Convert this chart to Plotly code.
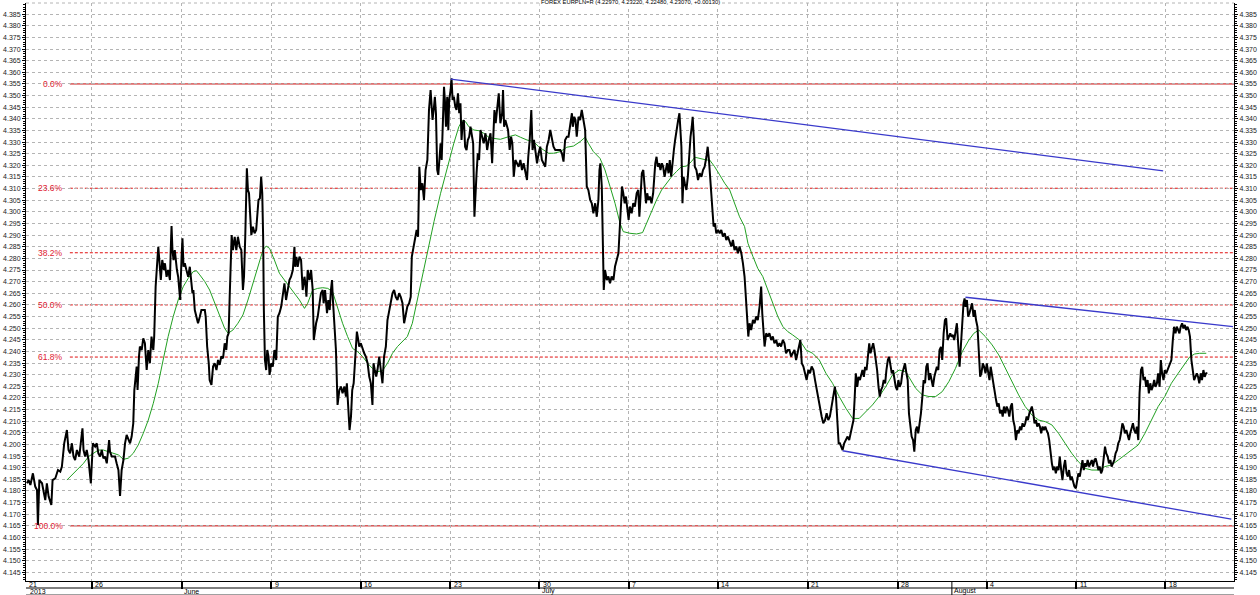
import plotly.graph_objects as go

# ---------------- data ----------------
title_text = "FOREX EURPLN=R (4.22970, 4.23220, 4.22480, 4.23070, +0.00130)"

# time in trading days since first bar (21 May 2013)
price_t = [
    0.00, 0.09, 0.19, 0.33, 0.46, 0.56, 0.61, 0.69, 0.84, 0.93, 1.02, 1.11, 1.21, 1.36, 1.43, 1.58, 1.73, 1.86, 1.95, 2.08,
    2.14, 2.23, 2.32, 2.41, 2.51, 2.60, 2.69, 2.79, 2.92, 3.10, 3.16, 3.25, 3.34, 3.44, 3.57, 3.62, 3.68, 3.81, 3.90, 3.99,
    4.09, 4.18, 4.27, 4.36, 4.46, 4.59, 4.64, 4.74, 4.92, 5.01, 5.11, 5.20, 5.29, 5.39, 5.48, 5.57, 5.66, 5.76, 5.85, 5.94,
    6.00, 6.07, 6.13, 6.18, 6.22, 6.26, 6.31, 6.41, 6.50, 6.59, 6.69, 6.78, 6.87, 6.96, 7.06, 7.11, 7.19, 7.24, 7.30, 7.34,
    7.39, 7.48, 7.56, 7.65, 7.71, 7.80, 7.89, 7.99, 8.04, 8.08, 8.13, 8.19, 8.26, 8.30, 8.38, 8.45, 8.51, 8.56, 8.64, 8.69,
    8.75, 8.82, 8.91, 9.01, 9.10, 9.19, 9.25, 9.30, 9.38, 9.47, 9.56, 9.66, 9.75, 9.84, 9.94, 9.99, 10.07, 10.16, 10.21, 10.31,
    10.40, 10.49, 10.59, 10.68, 10.77, 10.86, 10.96, 11.05, 11.14, 11.20, 11.27, 11.33, 11.38, 11.44, 11.51, 11.61, 11.70, 11.79, 11.89, 11.98,
    12.07, 12.13, 12.20, 12.26, 12.29, 12.35, 12.41, 12.46, 12.54, 12.63, 12.72, 12.81, 12.87, 12.94, 13.02, 13.09, 13.15, 13.20, 13.24, 13.30,
    13.37, 13.43, 13.50, 13.56, 13.65, 13.74, 13.83, 13.93, 14.02, 14.11, 14.21, 14.30, 14.39, 14.48, 14.58, 14.67, 14.76, 14.86, 14.95, 14.99,
    15.06, 15.13, 15.23, 15.32, 15.41, 15.51, 15.56, 15.62, 15.69, 15.79, 15.88, 15.97, 16.03, 16.10, 16.16, 16.25, 16.34, 16.43, 16.53, 16.58,
    16.66, 16.77, 16.84, 16.92, 16.99, 17.05, 17.10, 17.18, 17.27, 17.36, 17.46, 17.55, 17.64, 17.74, 17.83, 17.88, 17.96, 18.03, 18.11, 18.18,
    18.26, 18.35, 18.44, 18.52, 18.57, 18.66, 18.76, 18.85, 18.94, 19.04, 19.13, 19.22, 19.31, 19.37, 19.44, 19.52, 19.59, 19.69, 19.78, 19.87,
    19.96, 20.06, 20.15, 20.24, 20.34, 20.43, 20.52, 20.61, 20.71, 20.80, 20.89, 20.99, 21.08, 21.17, 21.26, 21.36, 21.45, 21.51, 21.60, 21.67,
    21.73, 21.78, 21.86, 21.93, 22.01, 22.10, 22.19, 22.28, 22.38,
    22.47, 22.56, 22.62, 22.67, 22.75, 22.80, 22.86, 22.93, 22.99, 23.05, 23.12, 23.18, 23.23, 23.31, 23.36, 23.42, 23.49, 23.55, 23.60, 23.68,
    23.73, 23.79, 23.86, 23.94, 24.01, 24.09, 24.16, 24.23, 24.29, 24.35, 24.42, 24.49, 24.57, 24.64, 24.72, 24.79, 24.88, 24.94, 25.01, 25.07,
    25.13, 25.20, 25.27, 25.35, 25.44, 25.53, 25.63, 25.72, 25.81, 25.91, 26.00, 26.05, 26.13, 26.20, 26.28, 26.37, 26.46, 26.56, 26.61, 26.67,
    26.74, 26.83, 26.89, 26.98, 27.06, 27.13, 27.21, 27.30, 27.39, 27.48, 27.58, 27.67, 27.76, 27.86, 27.95, 28.02, 28.10, 28.19, 28.26, 28.34,
    28.41, 28.51, 28.60, 28.69, 28.78, 28.88, 28.97, 29.06, 29.16, 29.25, 29.34, 29.43, 29.53, 29.62, 29.71, 29.81, 29.90, 29.99, 30.08, 30.18,
    30.27, 30.36, 30.46, 30.51, 30.59, 30.66, 30.73, 30.83, 30.92, 31.01, 31.11, 31.20, 31.29, 31.38, 31.48, 31.57, 31.66, 31.76, 31.85, 31.94,
    32.00, 32.05, 32.13, 32.18, 32.24, 32.31, 32.41, 32.50, 32.59, 32.68, 32.78, 32.87, 32.96, 33.06, 33.15, 33.20, 33.26, 33.33, 33.41, 33.48,
    33.56, 33.63, 33.70, 33.80, 33.89, 33.98, 34.08, 34.17, 34.23, 34.30, 34.37, 34.45, 34.52, 34.60, 34.67, 34.74, 34.82, 34.91, 35.00, 35.06,
    35.12, 35.19, 35.26, 35.34, 35.41, 35.49, 35.56, 35.64, 35.71, 35.78, 35.86, 35.93, 36.01, 36.08, 36.16, 36.23, 36.30, 36.40, 36.47, 36.53,
    36.58, 36.64, 36.70, 36.77, 36.86, 36.94, 37.01, 37.09, 37.16, 37.21, 37.27, 37.33, 37.42, 37.51, 37.60, 37.70, 37.79, 37.88, 37.98, 38.05,
    38.12, 38.18, 38.25, 38.31, 38.38, 38.46, 38.53, 38.63, 38.72, 38.81, 38.90, 39.00, 39.09, 39.18, 39.28, 39.37, 39.46, 39.55, 39.65, 39.74,
    39.83, 39.93, 40.02, 40.11, 40.17, 40.24, 40.32, 40.39, 40.48, 40.58, 40.67, 40.76, 40.85, 40.95, 41.04, 41.10, 41.17, 41.23, 41.32, 41.41,
    41.50, 41.60, 41.69, 41.78, 41.88, 41.97, 42.06, 42.15, 42.25, 42.34, 42.43, 42.53, 42.62, 42.71, 42.80, 42.90, 42.99, 43.08, 43.18, 43.23,
    43.31, 43.40, 43.49, 43.58, 43.68, 43.77, 43.86, 43.96, 44.05, 44.14, 44.23, 44.33, 44.42, 44.51, 44.61, 44.70, 44.79, 44.88, 44.98, 45.07,
    45.16, 45.22, 45.29, 45.37,
    45.44, 45.52, 45.59, 45.68, 45.78, 45.87, 45.96, 46.05, 46.15, 46.20, 46.26, 46.33, 46.41, 46.48, 46.56, 46.63, 46.70, 46.78, 46.85, 46.93,
    47.00, 47.08, 47.15, 47.22, 47.30, 47.37, 47.45, 47.52, 47.60, 47.67, 47.74, 47.82, 47.89, 47.97, 48.04, 48.12, 48.19, 48.26, 48.34, 48.41,
    48.49, 48.56, 48.64, 48.71, 48.78, 48.86, 48.93, 49.01, 49.08, 49.16, 49.23, 49.30, 49.38, 49.45, 49.53, 49.60, 49.68, 49.75, 49.82, 49.90,
    49.97, 50.05, 50.12, 50.20, 50.27, 50.34, 50.42, 50.49, 50.57, 50.64, 50.72, 50.79, 50.86, 50.94, 51.01, 51.09, 51.16, 51.24, 51.31, 51.38,
    51.46, 51.53, 51.61, 51.68, 51.76, 51.83, 51.90, 51.98, 52.05, 52.13, 52.20, 52.28, 52.35, 52.41, 52.46, 52.54, 52.61, 52.68, 52.76, 52.83,
    52.91, 52.98, 53.05, 53.13, 53.20, 53.28, 53.35, 53.43, 53.50, 53.58, 53.65, 53.72, 53.80, 53.87, 53.95, 54.02, 54.09, 54.17, 54.24, 54.32,
    54.39, 54.47, 54.54, 54.61, 54.69, 54.76, 54.84, 54.91, 54.99, 55.06, 55.13, 55.21, 55.28, 55.36, 55.43, 55.51, 55.58, 55.65, 55.73, 55.80,
    55.88, 55.95, 56.03, 56.10, 56.17, 56.25, 56.32, 56.40, 56.47, 56.55, 56.62, 56.69, 56.77, 56.84, 56.92, 56.99, 57.07, 57.14, 57.21, 57.29,
    57.36, 57.44, 57.51, 57.59, 57.66, 57.73, 57.81, 57.88, 57.96, 58.03, 58.11, 58.18, 58.25, 58.33, 58.40, 58.48, 58.55, 58.63, 58.70, 58.77,
    58.85, 58.92, 59.00, 59.07, 59.15, 59.22, 59.29, 59.37, 59.44, 59.52, 59.59, 59.67, 59.74, 59.81, 59.89, 59.96, 60.04, 60.11, 60.19, 60.26,
    60.33, 60.41, 60.48, 60.56, 60.63, 60.71, 60.78, 60.85, 60.93, 61.00, 61.08, 61.15, 61.23, 61.30, 61.37, 61.45, 61.52, 61.60, 61.67, 61.75,
    61.82, 61.89, 61.97, 62.04, 62.12, 62.19, 62.27, 62.34, 62.41, 62.49, 62.56, 62.64, 62.71, 62.79, 62.86, 62.93, 63.01, 63.08, 63.16, 63.23,
    63.31, 63.38, 63.45, 63.53, 63.60, 63.68, 63.75, 63.83, 63.90, 63.97, 64.05, 64.12, 64.20, 64.27, 64.35, 64.42, 64.49, 64.57, 64.64, 64.72,
    64.79, 64.87, 64.94, 65.01, 65.09, 65.16, 65.24, 65.31, 65.39, 65.46, 65.53, 65.61, 65.68, 65.76, 65.83, 65.91, 65.98,
]

price = [
    4.1833, 4.1847, 4.1826, 4.1876, 4.1819, 4.1804, 4.1654, 4.1847, 4.1833, 4.1790, 4.1761, 4.1833, 4.1776, 4.1740, 4.1847, 4.1854, 4.1890, 4.1883, 4.1905, 4.2005,
    4.2034, 4.2062, 4.1976, 4.1962, 4.2005, 4.1948, 4.1933, 4.1976, 4.1948, 4.2069, 4.1976, 4.1948, 4.1976, 4.1933, 4.1833, 4.1948, 4.2005, 4.1991, 4.2005, 4.1962,
    4.1948, 4.1976, 4.1940, 4.1948, 4.1919, 4.2019, 4.1969, 4.1948, 4.1948, 4.1919, 4.1890, 4.1779, 4.1890, 4.1933, 4.2005, 4.2041, 4.2019, 4.2005, 4.2034, 4.2091,
    4.2234, 4.2292, 4.2335, 4.2234, 4.2349, 4.2378, 4.2421, 4.2406, 4.2456, 4.2435, 4.2320, 4.2406, 4.2349, 4.2464, 4.2406, 4.2464, 4.2678, 4.2721, 4.2807, 4.2850,
    4.2779, 4.2707, 4.2793, 4.2750, 4.2779, 4.2721, 4.2750, 4.2707, 4.2850, 4.2939, 4.2836, 4.2793, 4.2836, 4.2793, 4.2750, 4.2721, 4.2664, 4.2621, 4.2807, 4.2886,
    4.2764, 4.2779, 4.2750, 4.2721, 4.2764, 4.2693, 4.2650, 4.2664, 4.2578, 4.2549, 4.2521, 4.2549, 4.2578, 4.2578, 4.2578, 4.2549, 4.2421, 4.2349, 4.2277, 4.2256,
    4.2335, 4.2349, 4.2320, 4.2363, 4.2342, 4.2378, 4.2371, 4.2435, 4.2406, 4.2464, 4.2478, 4.2635, 4.2807, 4.2900, 4.2836, 4.2893, 4.2836, 4.2893, 4.2850, 4.2836,
    4.2664, 4.2721, 4.2893, 4.3151, 4.3187, 4.3094, 4.3080, 4.3008, 4.2900, 4.2936, 4.2908, 4.2922, 4.2979, 4.3051, 4.3058, 4.3151, 4.3080, 4.2893, 4.2578, 4.2363,
    4.2320, 4.2406, 4.2378, 4.2299, 4.2349, 4.2335, 4.2406, 4.2363, 4.2549, 4.2564, 4.2593, 4.2650, 4.2693, 4.2621, 4.2664, 4.2707, 4.2721, 4.2750, 4.2850, 4.2764,
    4.2807, 4.2764, 4.2807, 4.2793, 4.2664, 4.2721, 4.2693, 4.2635, 4.2750, 4.2707, 4.2750, 4.2664, 4.2449, 4.2492, 4.2521, 4.2549, 4.2607, 4.2650, 4.2664, 4.2607,
    4.2664, 4.2564, 4.2621, 4.2578, 4.2664, 4.2707, 4.2621, 4.2535, 4.2406, 4.2170, 4.2234, 4.2249, 4.2220, 4.2249, 4.2206, 4.2263, 4.2177, 4.2062, 4.2120, 4.2234,
    4.2263, 4.2378, 4.2485, 4.2449, 4.2421, 4.2435, 4.2406, 4.2392, 4.2378, 4.2349, 4.2292, 4.2263, 4.2170, 4.2349, 4.2320, 4.2292, 4.2320, 4.2378, 4.2320, 4.2263,
    4.2378, 4.2421, 4.2535, 4.2578, 4.2607, 4.2650, 4.2664, 4.2635, 4.2621, 4.2650, 4.2635, 4.2607, 4.2521, 4.2564, 4.2593, 4.2607, 4.2635, 4.2807, 4.2850, 4.2879,
    4.2900, 4.2922, 4.2893, 4.3194, 4.3094, 4.3123, 4.3051, 4.3180, 4.3223,
    4.3438, 4.3524, 4.3467, 4.3395, 4.3452, 4.3495, 4.3424, 4.3180, 4.3159, 4.3237, 4.3295, 4.3223, 4.3366, 4.3538, 4.3481, 4.3366, 4.3495, 4.3352, 4.3481, 4.3524,
    4.3574, 4.3481, 4.3495, 4.3452, 4.3438, 4.3510, 4.3424, 4.3467, 4.3309, 4.3381, 4.3395, 4.3280, 4.3266, 4.3309, 4.3323, 4.3366, 4.3323, 4.3295, 4.2979, 4.3109,
    4.3166, 4.3252, 4.3223, 4.3352, 4.3323, 4.3295, 4.3338, 4.3266, 4.3309, 4.3338, 4.3209, 4.3338, 4.3438, 4.3381, 4.3438, 4.3510, 4.3381, 4.3424, 4.3524, 4.3366,
    4.3395, 4.3366, 4.3352, 4.3266, 4.3323, 4.3295, 4.3151, 4.3223, 4.3209, 4.3194, 4.3223, 4.3180, 4.3209, 4.3166, 4.3137, 4.3237, 4.3309, 4.3438, 4.3266, 4.3309,
    4.3266, 4.3209, 4.3252, 4.3280, 4.3223, 4.3209, 4.3194, 4.3280, 4.3309, 4.3352, 4.3309, 4.3280, 4.3266, 4.3266, 4.3266, 4.3266, 4.3252, 4.3216, 4.3309, 4.3323,
    4.3323, 4.3366, 4.3424, 4.3366, 4.3409, 4.3395, 4.3323, 4.3409, 4.3395, 4.3438, 4.3381, 4.3352, 4.3109, 4.3094, 4.3051, 4.3037, 4.2994, 4.3037, 4.2979, 4.3051,
    4.3180, 4.3209, 4.3109, 4.2822, 4.2664, 4.2750, 4.2707, 4.2722, 4.2693, 4.2722, 4.2707, 4.2765, 4.2793, 4.2822, 4.2951, 4.3037, 4.3109, 4.3080, 4.3037, 4.3066,
    4.2994, 4.2965, 4.3023, 4.2994, 4.3037, 4.3023, 4.3080, 4.3094, 4.2979, 4.3051, 4.3166, 4.3180, 4.3109, 4.3037, 4.3080, 4.3051, 4.3066, 4.3037, 4.3080, 4.3166,
    4.3209, 4.3237, 4.3194, 4.3209, 4.3180, 4.3209, 4.3194, 4.3151, 4.3180, 4.3209, 4.3166, 4.3223, 4.3151, 4.3223, 4.3266, 4.3309, 4.3352, 4.3395, 4.3424, 4.3366,
    4.3280, 4.3037, 4.3151, 4.3123, 4.3094, 4.3151, 4.3252, 4.3323, 4.3366, 4.3409, 4.3323, 4.3194, 4.3180, 4.3137, 4.3166, 4.3151, 4.3180, 4.3194, 4.3237, 4.3280,
    4.3223, 4.3151, 4.3066, 4.2994, 4.2937, 4.2951, 4.2908, 4.2922, 4.2908, 4.2922, 4.2894, 4.2908, 4.2879, 4.2894, 4.2872, 4.2851, 4.2879, 4.2836, 4.2851, 4.2822,
    4.2851, 4.2822, 4.2779, 4.2722, 4.2650, 4.2535, 4.2464, 4.2521, 4.2492, 4.2535, 4.2521, 4.2550, 4.2535, 4.2593, 4.2679, 4.2564, 4.2478, 4.2421, 4.2478, 4.2464,
    4.2478, 4.2449, 4.2464, 4.2435, 4.2449, 4.2421, 4.2435, 4.2421, 4.2449, 4.2435, 4.2392, 4.2406, 4.2406, 4.2378, 4.2392, 4.2406, 4.2363, 4.2392, 4.2435, 4.2449,
    4.2349, 4.2335, 4.2306, 4.2277, 4.2320, 4.2306, 4.2335, 4.2320, 4.2277, 4.2234, 4.2191, 4.2148, 4.2120, 4.2091, 4.2105, 4.2134, 4.2105, 4.2120, 4.2163, 4.2220,
    4.2249, 4.2206, 4.2105, 4.2005,
    4.2005, 4.1991, 4.1976, 4.2005, 4.2019, 4.2034, 4.2019, 4.2048, 4.2077, 4.2105, 4.2191, 4.2306, 4.2248, 4.2291, 4.2277, 4.2306, 4.2320, 4.2291, 4.2334, 4.2320,
    4.2392, 4.2435, 4.2392, 4.2420, 4.2435, 4.2406, 4.2363, 4.2320, 4.2248, 4.2206, 4.2234, 4.2248, 4.2277, 4.2263, 4.2320, 4.2363, 4.2377, 4.2334, 4.2306, 4.2320,
    4.2277, 4.2248, 4.2234, 4.2277, 4.2248, 4.2263, 4.2306, 4.2334, 4.2349, 4.2306, 4.2277, 4.2134, 4.2062, 4.2034, 4.2019, 4.1969, 4.2062, 4.2077, 4.2048, 4.2091,
    4.2134, 4.2206, 4.2277, 4.2263, 4.2334, 4.2349, 4.2277, 4.2306, 4.2277, 4.2248, 4.2291, 4.2320, 4.2334, 4.2320, 4.2406, 4.2420, 4.2363, 4.2478, 4.2535, 4.2542,
    4.2449, 4.2463, 4.2478, 4.2463, 4.2471, 4.2449, 4.2492, 4.2521, 4.2435, 4.2334, 4.2420, 4.2535, 4.2607, 4.2628, 4.2592, 4.2621, 4.2549, 4.2564, 4.2592, 4.2607,
    4.2549, 4.2578, 4.2535, 4.2506, 4.2406, 4.2291, 4.2306, 4.2349, 4.2334, 4.2306, 4.2349, 4.2320, 4.2277, 4.2334, 4.2291, 4.2263, 4.2220, 4.2191, 4.2163, 4.2177,
    4.2134, 4.2148, 4.2120, 4.2163, 4.2134, 4.2163, 4.2148, 4.2120, 4.2163, 4.2177, 4.2105, 4.2077, 4.2019, 4.2062, 4.2048, 4.2077, 4.2062, 4.2091, 4.2077, 4.2091,
    4.2120, 4.2105, 4.2134, 4.2148, 4.2163, 4.2134, 4.2091, 4.2105, 4.2077, 4.2091, 4.2077, 4.2048, 4.2077, 4.2062, 4.2077, 4.2062, 4.2048, 4.2019, 4.1962, 4.1919,
    4.1890, 4.1905, 4.1876, 4.1905, 4.1890, 4.1948, 4.1890, 4.1847, 4.1905, 4.1933, 4.1876, 4.1862, 4.1890, 4.1847, 4.1862, 4.1833, 4.1819, 4.1811, 4.1847, 4.1876,
    4.1862, 4.1905, 4.1933, 4.1890, 4.1919, 4.1905, 4.1933, 4.1905, 4.1919, 4.1933, 4.1905, 4.1933, 4.1940, 4.1919, 4.1890, 4.1905, 4.1876, 4.1890, 4.1948, 4.1991,
    4.1962, 4.1948, 4.1919, 4.1933, 4.1905, 4.1919, 4.1933, 4.1962, 4.1976, 4.2005, 4.2019, 4.2048, 4.2091, 4.2077, 4.2048, 4.2062, 4.2034, 4.2019, 4.2048, 4.2077,
    4.2091, 4.2062, 4.2048, 4.2077, 4.2019, 4.2220, 4.2320, 4.2334, 4.2277, 4.2291, 4.2248, 4.2277, 4.2220, 4.2263, 4.2234, 4.2248, 4.2277, 4.2248, 4.2263, 4.2306,
    4.2248, 4.2363, 4.2306, 4.2277, 4.2320, 4.2306, 4.2320, 4.2334, 4.2349, 4.2363, 4.2449, 4.2506, 4.2478, 4.2506, 4.2492, 4.2478, 4.2506, 4.2521, 4.2499, 4.2514,
    4.2492, 4.2506, 4.2492, 4.2463, 4.2363, 4.2320, 4.2277, 4.2291, 4.2306, 4.2291, 4.2263, 4.2306, 4.2277, 4.2320, 4.2291, 4.2306, 4.2307,
]

# green moving average
ma_t = [
    2.23, 2.69, 3.16, 3.44, 3.71, 3.99, 4.27, 4.55, 4.83, 5.11, 5.39, 5.66, 5.94, 6.22, 6.50, 6.78, 7.06, 7.34, 7.61, 7.89,
    8.17, 8.45, 8.73, 9.01, 9.29, 9.47, 9.66, 9.94, 10.21, 10.49, 10.77, 11.05, 11.24, 11.51, 11.79, 12.07, 12.35, 12.63, 12.91, 13.19,
    13.37, 13.56, 13.83, 14.11, 14.39, 14.67, 14.95, 15.23, 15.51, 15.69, 15.97, 16.25, 16.53, 16.81, 17.08, 17.36, 17.64, 17.92, 18.20, 18.48,
    18.76, 19.04, 19.31, 19.59, 19.87, 20.15, 20.43, 20.71, 20.99, 21.26, 21.54, 21.82, 22.10, 22.38, 22.75, 23.12, 23.49, 23.86, 24.14, 24.33,
    24.51, 24.70, 24.98, 25.26, 25.53, 25.81, 26.09, 26.46, 26.83, 27.30, 27.58, 27.95, 28.32, 28.60, 28.88, 29.16, 29.43, 29.81, 30.18, 30.55,
    30.92, 31.20, 31.38, 31.66, 32.03, 32.31, 32.59, 32.87, 33.15, 33.33, 33.70, 34.08, 34.41, 34.63, 34.91, 35.19, 35.47, 35.75, 36.03, 36.30,
    36.58, 36.86, 37.14, 37.33, 37.60, 37.98, 38.16, 38.44, 38.72, 39.00, 39.28, 39.55, 39.83, 40.11, 40.30, 40.58, 40.85, 41.13, 41.41, 41.69,
    41.97, 42.25, 42.53, 42.80, 43.18, 43.55, 43.92, 44.29, 44.66, 45.03, 45.40, 45.78, 46.15, 46.52, 46.89, 47.26, 47.63, 48.00, 48.38, 48.75,
    49.12, 49.40, 49.68, 50.05, 50.42, 50.79, 51.16, 51.53, 51.90, 52.28, 52.65, 52.93, 53.20, 53.58, 53.95, 54.32, 54.69, 55.06, 55.43, 55.80,
    56.17, 56.55, 56.92, 57.29, 57.66, 58.03, 58.40, 58.77, 59.15, 59.52, 59.89, 60.26, 60.63, 61.00, 61.37, 61.75, 62.12, 62.49, 62.86, 63.23,
    63.60, 63.97, 64.35, 64.72, 65.00, 65.27, 65.55, 65.92,
]
ma_v = [
    4.1847, 4.1883, 4.1919, 4.1948, 4.1962, 4.1976, 4.1976, 4.1969, 4.1962, 4.1955, 4.1936, 4.1941, 4.1962, 4.1998, 4.2048, 4.2105, 4.2177, 4.2263, 4.2363, 4.2464,
    4.2549, 4.2621, 4.2678, 4.2714, 4.2743, 4.2747, 4.2729, 4.2700, 4.2664, 4.2607, 4.2549, 4.2499, 4.2478, 4.2492, 4.2521, 4.2557, 4.2621, 4.2693, 4.2764, 4.2836,
    4.2853, 4.2843, 4.2793, 4.2736, 4.2707, 4.2678, 4.2650, 4.2621, 4.2585, 4.2607, 4.2664, 4.2671, 4.2674, 4.2671, 4.2657, 4.2585, 4.2521, 4.2464, 4.2413, 4.2399,
    4.2378, 4.2349, 4.2327, 4.2313, 4.2317, 4.2349, 4.2392, 4.2421, 4.2442, 4.2464, 4.2521, 4.2621, 4.2721, 4.2836, 4.2958, 4.3080, 4.3194, 4.3295, 4.3366, 4.3392,
    4.3388, 4.3366, 4.3352, 4.3349, 4.3338, 4.3321, 4.3316, 4.3312, 4.3321, 4.3331, 4.3321, 4.3309, 4.3302, 4.3280, 4.3266, 4.3252, 4.3252, 4.3259, 4.3278, 4.3283,
    4.3302, 4.3321, 4.3295, 4.3259, 4.3230, 4.3180, 4.3109, 4.3037, 4.2951, 4.2915, 4.2908, 4.2905, 4.2911, 4.2951, 4.3008, 4.3051, 4.3094, 4.3123, 4.3151, 4.3173,
    4.3194, 4.3197, 4.3216, 4.3235, 4.3230, 4.3223, 4.3223, 4.3194, 4.3159, 4.3123, 4.3094, 4.3037, 4.2979, 4.2937, 4.2865, 4.2808, 4.2757, 4.2722, 4.2664, 4.2607,
    4.2550, 4.2507, 4.2485, 4.2471, 4.2449, 4.2406, 4.2392, 4.2363, 4.2306, 4.2263, 4.2206, 4.2155, 4.2112, 4.2112, 4.2141, 4.2170, 4.2206, 4.2248, 4.2299, 4.2320,
    4.2313, 4.2277, 4.2241, 4.2213, 4.2206, 4.2206, 4.2227, 4.2270, 4.2327, 4.2399, 4.2449, 4.2478, 4.2492, 4.2463, 4.2428, 4.2385, 4.2327, 4.2270, 4.2213, 4.2163,
    4.2127, 4.2105, 4.2098, 4.2084, 4.2048, 4.2005, 4.1962, 4.1926, 4.1897, 4.1890, 4.1890, 4.1905, 4.1912, 4.1933, 4.1955, 4.1976, 4.1998, 4.2048, 4.2105, 4.2163,
    4.2206, 4.2263, 4.2306, 4.2349, 4.2377, 4.2389, 4.2392, 4.2392,
]

# Fibonacci retracement between swing high and swing low
fib_high = 4.355
fib_low = 4.165
fib_pcts = [0.0, 23.6, 38.2, 50.0, 61.8, 100.0]

# trend lines: start / end (t, price)
trend_upper_t = [23.68, 63.51]
trend_upper_v = [4.3571, 4.3176]
chan_top_t = [52.46, 67.41]
chan_top_v = [4.2633, 4.2507]
chan_bot_t = [45.59, 67.32]
chan_bot_v = [4.1973, 4.1679]

# time axis labels
week_t = [3.63, 8.64, 13.65, 18.66, 23.67, 28.64, 33.65, 38.62, 43.63, 48.68, 53.65, 58.66, 63.63]
week_labels = ["26", "", "9", "16", "23", "30", "7", "14", "21", "28", "4", "11", "18"]
first_label = "21"
month_t = [0.0, 8.64, 28.64, 51.70]
month_labels = ["2013", "June", "July", "August"]

# ---------------- figure ----------------
X_RANGE = [-0.056, 67.47]
Y_RANGE = [4.1413, 4.3898]
PLOT_H = 578.0
FONT = "Liberation Sans, Arial, sans-serif"

fig = go.Figure()

fig.add_trace(go.Scatter(x=ma_t, y=ma_v, mode="lines",
                         line=dict(color="#22a022", width=1), hoverinfo="skip"))
fig.add_trace(go.Scatter(x=price_t, y=price, mode="lines",
                         line=dict(color="#000000", width=2), hoverinfo="skip"))
for tt, vv in [(trend_upper_t, trend_upper_v), (chan_top_t, chan_top_v), (chan_bot_t, chan_bot_v)]:
    fig.add_trace(go.Scatter(x=tt, y=vv, mode="lines", yaxis="y2",
                             line=dict(color="#3a3acb", width=1.3), hoverinfo="skip"))

shapes = []
annotations = []

# Fibonacci levels
fib_x0 = 44.0 / 1212.0
for p in fib_pcts:
    lvl = fib_high - p / 100.0 * (fib_high - fib_low)
    solid = p in (0.0, 100.0)
    shapes.append(dict(type="line", xref="paper", yref="y", x0=fib_x0, x1=1.0, y0=lvl, y1=lvl,
                       line=dict(color="#c40000" if solid else "#e01010", width=1,
                                 dash="solid" if solid else "3px,2px"), layer="below"))
    annotations.append(dict(xref="paper", yref="y", x=39.5 / 1212.0, y=lvl, xanchor="right", yanchor="middle",
                            text=f"{p:.1f}%", showarrow=False,
                            font=dict(family=FONT, size=8.5, color="#e02030")))

# top dotted grid line
shapes.append(dict(type="line", xref="paper", yref="paper", x0=0, x1=1, y0=1, y1=1,
                   line=dict(color="#b4b4b4", width=1, dash="dot"), layer="below"))

# date strip bottom border and lower border
strip_h = 7.0 / PLOT_H
shapes.append(dict(type="line", xref="paper", yref="paper", x0=0, x1=1, y0=-strip_h, y1=-strip_h,
                   line=dict(color="#000000", width=1)))
shapes.append(dict(type="line", xref="paper", yref="paper", x0=0, x1=1, y0=-13.5 / PLOT_H, y1=-13.5 / PLOT_H,
                   line=dict(color="#a0a0a0", width=1)))
# month separator for August
shapes.append(dict(type="line", xref="x", yref="paper", x0=month_t[3], x1=month_t[3], y0=0, y1=-14 / PLOT_H,
                   line=dict(color="#000000", width=1)))

# week labels inside strip
annotations.append(dict(xref="x", yref="paper", x=0.0, y=-3.6 / PLOT_H, xanchor="left", yanchor="middle",
                        text=first_label, showarrow=False, font=dict(family=FONT, size=7, color="#000")))
for tt, lab in zip(week_t, week_labels):
    if lab:
        annotations.append(dict(xref="x", yref="paper", x=tt, xshift=1.5, y=-3.6 / PLOT_H, xanchor="left",
                                yanchor="middle", text=lab, showarrow=False,
                                font=dict(family=FONT, size=7, color="#000")))
for tt, lab in zip(month_t, month_labels):
    annotations.append(dict(xref="x", yref="paper", x=tt, xshift=0.5, y=-10.3 / PLOT_H, xanchor="left",
                            yanchor="middle", text=lab, showarrow=False,
                            font=dict(family=FONT, size=7, color="#000")))

# title
annotations.append(dict(xref="paper", yref="paper", x=0.5, y=1.0, yshift=1, xanchor="center", yanchor="middle",
                        text=title_text, showarrow=False, bgcolor="white",
                        font=dict(family=FONT, size=5.8, color="#000")))

yaxis_common = dict(
    range=Y_RANGE, tick0=4.145, dtick=0.005, tickformat=".3f",
    ticks="outside", ticklen=3, tickcolor="#000", tickwidth=1,
    showline=True, linecolor="#000", linewidth=1,
    tickfont=dict(family=FONT, size=7, color="#222"),
    minor=dict(dtick=0.001, ticks="outside", ticklen=2, tickcolor="#000", showgrid=False),
    zeroline=False, fixedrange=True,
)

fig.update_layout(
    width=1260, height=595,
    margin=dict(l=24, r=24, t=3, b=14, pad=0),
    paper_bgcolor="white", plot_bgcolor="white",
    showlegend=False,
    xaxis=dict(range=X_RANGE, tickmode="array", tickvals=week_t, ticktext=[""] * len(week_t),
               ticks="outside", ticklen=7, tickwidth=2, tickcolor="#000",
               showline=True, linecolor="#000", linewidth=1,
               showgrid=True, gridcolor="#b4b4b4", gridwidth=1, griddash="dot",
               zeroline=False, fixedrange=True),
    yaxis=dict(side="left", showgrid=True, gridcolor="#b4b4b4", gridwidth=1, griddash="dot", **yaxis_common),
    yaxis2=dict(side="right", overlaying="y", showgrid=False, **yaxis_common),
    shapes=shapes,
    annotations=annotations,
)

fig.write_html(
    "out.html",
    config={"displayModeBar": False, "staticPlot": True},
    post_script="document.body.style.margin='0';document.body.style.overflow='hidden';",
)
